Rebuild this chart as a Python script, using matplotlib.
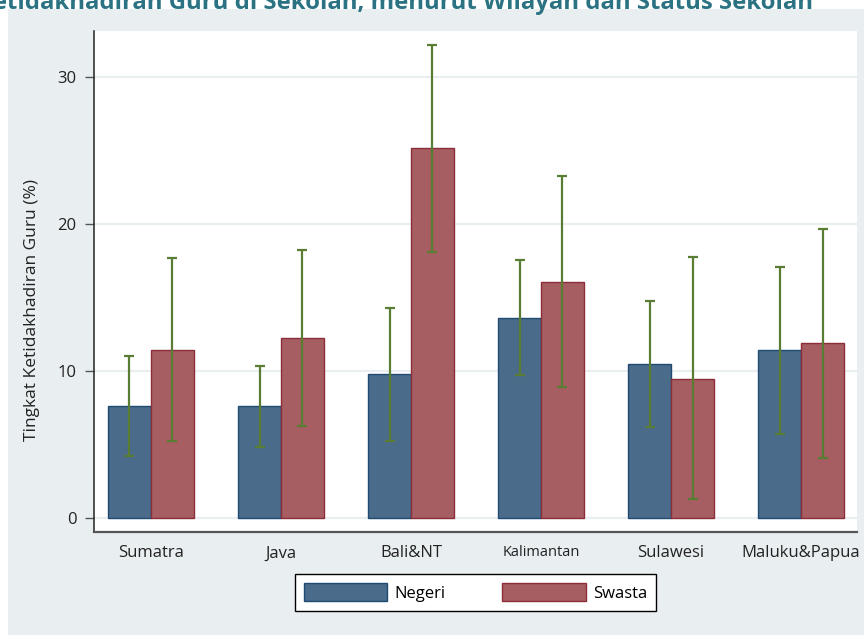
import matplotlib
matplotlib.use("Agg")
import matplotlib.pyplot as plt
from matplotlib.patches import Rectangle
import numpy as np

# Teacher absence rate by region and school status
regions = ["Sumatra", "Java", "Bali&NT", "Kalimantan", "Sulawesi", "Maluku&Papua"]
negeri = [7.62, 7.58, 9.78, 13.59, 10.46, 11.39]
negeri_lo = [4.22, 4.83, 5.24, 9.71, 6.19, 5.69]
negeri_hi = [11.00, 10.34, 14.29, 17.53, 14.74, 17.05]
swasta = [11.43, 12.20, 25.13, 16.06, 9.47, 11.86]
swasta_lo = [5.20, 6.22, 18.05, 8.91, 1.29, 4.06]
swasta_hi = [17.67, 18.20, 32.16, 23.24, 17.71, 19.62]
yticks = [0, 10, 20, 30]

FONT = ["Open Sans", "DejaVu Sans"]
plt.rcParams["font.family"] = FONT

W, H = 864, 635
fig = plt.figure(figsize=(W / 100, H / 100), dpi=100)
fig.patch.set_facecolor("white")

# light panel behind the chart
bg = "#e9eef1"
fig.add_artist(Rectangle((8 / W, 0), 1 - 8 / W, 1 - 9 / H, transform=fig.transFigure,
                         facecolor=bg, edgecolor="none", zorder=-10))

ax = fig.add_axes([94 / W, (H - 531.5) / H, (857 - 94) / W, (531.5 - 31) / H])
ax.set_facecolor("white")

x = np.arange(len(regions))
bw = 0.33
c_neg, e_neg = "#4a6b8a", "#1f4a73"
c_swa, e_swa = "#a65e62", "#8c2d38"
c_err = "#5a7d34"

ax.bar(x - bw / 2, negeri, width=bw, color=c_neg, edgecolor=e_neg, linewidth=1.0,
       label="Negeri", zorder=3)
ax.bar(x + bw / 2, swasta, width=bw, color=c_swa, edgecolor=e_swa, linewidth=1.0,
       label="Swasta", zorder=3)

neg = np.array(negeri)
swa = np.array(swasta)
ax.errorbar(x - bw / 2, neg, yerr=[neg - np.array(negeri_lo), np.array(negeri_hi) - neg],
            fmt="none", ecolor=c_err, elinewidth=1.6, capsize=3.8, capthick=1.6, zorder=4)
ax.errorbar(x + bw / 2, swa, yerr=[swa - np.array(swasta_lo), np.array(swasta_hi) - swa],
            fmt="none", ecolor=c_err, elinewidth=1.6, capsize=3.8, capthick=1.6, zorder=4)

ax.set_xlim(-0.438, 5.43)
ax.set_ylim(-0.93, 33.1)

ax.set_yticks(yticks)
ax.set_yticklabels([str(t) for t in yticks], fontsize=12, color="#222222")
ax.tick_params(axis="y", length=6.5, width=1.0, color="#555555", pad=6)
ax.yaxis.grid(True, color=bg, linewidth=1.6, zorder=0)
ax.set_axisbelow(True)

ax.set_xticks(x)
ax.set_xticklabels(regions, fontsize=12, color="#222222")
for lbl in ax.get_xticklabels():
    if lbl.get_text() == "Kalimantan":
        lbl.set_fontsize(10.5)
ax.tick_params(axis="x", length=0, pad=10)

for s in ("top", "right"):
    ax.spines[s].set_visible(False)
ax.spines["left"].set_color("#222222")
ax.spines["left"].set_linewidth(1.1)
ax.spines["bottom"].set_color("#555555")
ax.spines["bottom"].set_linewidth(1.6)

fig.text(32 / W, 1 - 310 / H, "Tingkat Ketidakhadiran Guru (%)", rotation=90,
         ha="center", va="center", fontsize=12.5, color="#222222")

leg = ax.legend(ncol=2, loc="center", bbox_to_anchor=(475.5 / W, 1 - 592.5 / H),
                bbox_transform=fig.transFigure, fontsize=12, frameon=True,
                fancybox=False, edgecolor="black", framealpha=1.0,
                handlelength=5.0, handleheight=1.3, handletextpad=0.45,
                columnspacing=3.4, borderpad=0.55, borderaxespad=0)
leg.get_frame().set_linewidth(1.0)

fig.text(813 / W, 1 - 9 / H,
         "Ketidakhadiran Guru di Sekolah, menurut Wilayah dan Status Sekolah",
         ha="right", va="baseline", fontsize=17.2, fontweight="bold", color="#2b7383")

fig.savefig("out.png", dpi=100)
